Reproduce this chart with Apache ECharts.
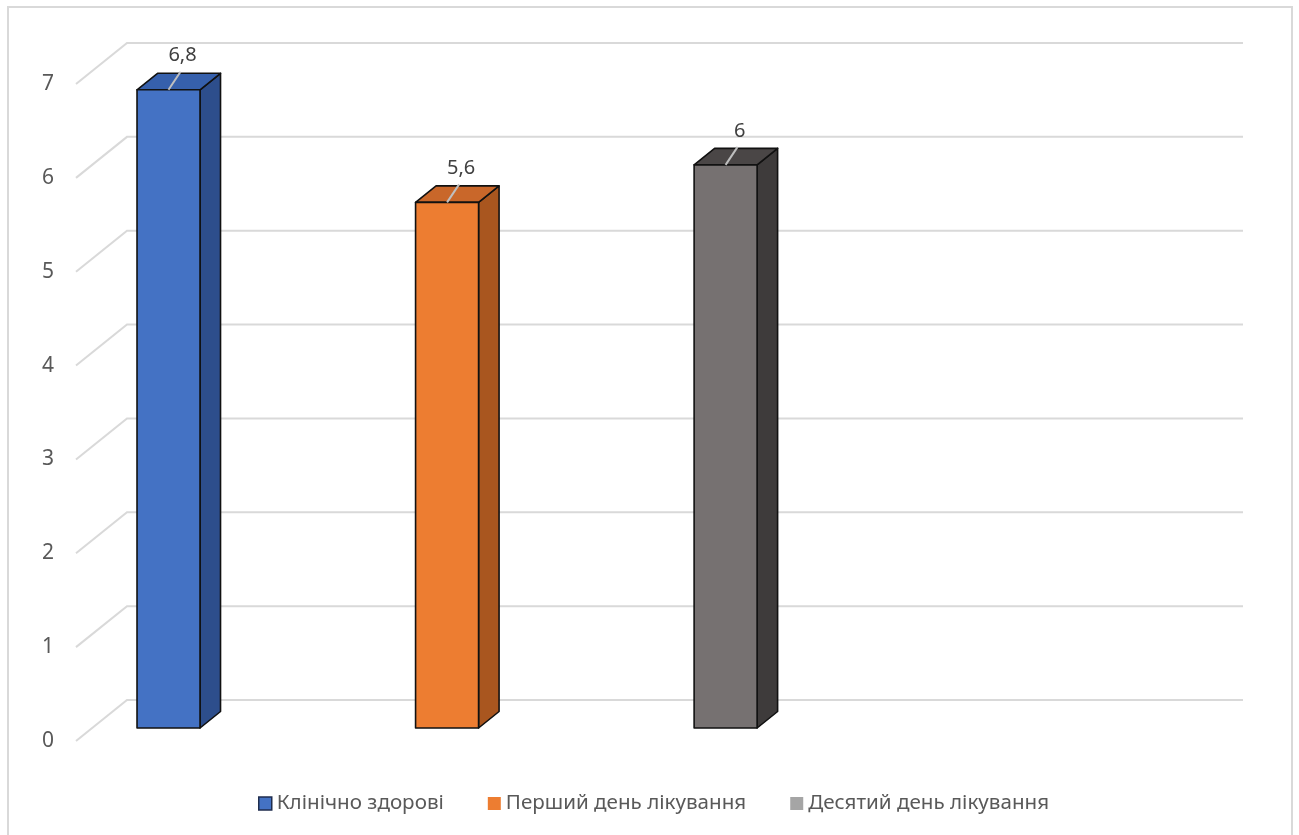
<!DOCTYPE html>
<html>
<head>
<meta charset="utf-8">
<script src="https://cdn.jsdelivr.net/npm/echarts@6/dist/echarts.min.js"></script>
<style>
html,body{margin:0;padding:0;background:#fff;}
#chart{width:1299px;height:835px;}
</style>
</head>
<body>
<div id="chart"></div>
<script>
// ---- data ----
const seriesNames = ['Клінічно здорові', 'Перший день лікування', 'Десятий день лікування'];
const seriesValues = [6.8, 5.6, 6];
const seriesSlots = [0, 1, 2];
const yTicks = [0, 1, 2, 3, 4, 5, 6, 7];

// ---- style ----
const FONT = "'Noto Sans', 'Open Sans', 'DejaVu Sans', sans-serif";
const faceFront = ['#4472C4', '#ED7D31', '#767171'];
const faceTop   = ['#3660AC', '#C9672A', '#4A4646'];
const faceSide  = ['#2D4E8C', '#A9561F', '#3E3B3B'];
const legendCol = ['#4472C4', '#ED7D31', '#A5A5A5'];
const X_MIN = -0.2765, X_MAX = 3.73;
const WALL_DX = 52, WALL_DY = -41;     // depth of the back wall
const FRONT_DX = 16.5, FRONT_DY = -13; // front face of the bars
const DEPTH_DX = 20.5, DEPTH_DY = -16.5; // depth of a bar
const HALF_W = 31.5;

function fmt(v) { return String(v).replace('.', ','); }

function renderGrid(params, api) {
  const p = api.coord([X_MIN, api.value(1)]);
  const right = params.coordSys.x + params.coordSys.width;
  return {
    type: 'polyline',
    shape: { points: [[p[0] + 1, p[1]], [p[0] + WALL_DX, p[1] + WALL_DY], [right + WALL_DX, p[1] + WALL_DY]] },
    style: { stroke: '#D9D9D9', lineWidth: 2, fill: null }
  };
}

function makeBarRenderer(idx) {
  return function (params, api) {
    const x = api.value(0), v = api.value(1);
    const base = api.coord([x, 0]);
    const top = api.coord([x, v]);
    const cx = base[0] + FRONT_DX;
    const yb = base[1] + FRONT_DY;
    const yt = top[1] + FRONT_DY;
    const L = cx - HALF_W, R = cx + HALF_W;
    const stroke = { stroke: '#111', lineWidth: 1.6, lineJoin: 'round' };
    return {
      type: 'group',
      children: [
        { type: 'polygon', shape: { points: [[R, yt], [R + DEPTH_DX, yt + DEPTH_DY], [R + DEPTH_DX, yb + DEPTH_DY], [R, yb]] },
          style: Object.assign({ fill: faceSide[idx] }, stroke) },
        { type: 'polygon', shape: { points: [[L, yt], [R, yt], [R + DEPTH_DX, yt + DEPTH_DY], [L + DEPTH_DX, yt + DEPTH_DY]] },
          style: Object.assign({ fill: faceTop[idx] }, stroke) },
        { type: 'rect', shape: { x: L, y: yt, width: R - L, height: yb - yt },
          style: Object.assign({ fill: faceFront[idx] }, stroke) },
        { type: 'line', shape: { x1: cx, y1: yt, x2: cx + 12, y2: yt - 18 },
          style: { stroke: '#BFBFBF', lineWidth: 2 } },
        { type: 'text', style: { text: fmt(v), x: cx + 14, y: yt - 34, align: 'center', verticalAlign: 'middle',
          fill: '#404040', fontSize: 20, fontFamily: FONT } }
      ]
    };
  };
}

const series = [{
  type: 'custom', name: 'grid', silent: true, clip: false, z: 1,
  data: yTicks.map(t => [X_MIN, t]),
  renderItem: renderGrid
}];
seriesNames.forEach((name, i) => {
  series.push({
    type: 'custom', name: name, clip: false, z: 5,
    itemStyle: { color: legendCol[i] },
    data: [[seriesSlots[i], seriesValues[i]]],
    renderItem: makeBarRenderer(i)
  });
});

const chart = echarts.init(document.getElementById('chart'), null, { renderer: 'canvas' });
chart.setOption({
  backgroundColor: '#fff',
  animation: false,
  graphic: [{ type: 'rect', shape: { x: 8, y: 7, width: 1284, height: 840 },
    style: { fill: null, stroke: '#D9D9D9', lineWidth: 2 }, silent: true, z: -10 }],
  grid: { left: 75, right: 108, top: 84, bottom: 94 },
  xAxis: { type: 'value', min: X_MIN, max: X_MAX, show: false },
  yAxis: {
    type: 'value', min: 0, max: 7, interval: 1,
    axisLine: { show: false }, axisTick: { show: false }, splitLine: { show: false },
    axisLabel: { color: '#595959', fontSize: 21, fontFamily: FONT, margin: 21 }
  },
  legend: {
    data: seriesNames.map((n, i) => ({ name: n, itemStyle: { color: legendCol[i], borderColor: i === 0 ? '#1F2D4D' : legendCol[i], borderWidth: i === 0 ? 1.5 : 0 } })),
    left: 253, top: 788, icon: 'rect', itemWidth: 13, itemHeight: 13, itemGap: 44,
    textStyle: { color: '#595959', fontSize: 20.6, fontFamily: FONT },
    selectedMode: false
  },
  series: series
});
</script>
</body>
</html>
